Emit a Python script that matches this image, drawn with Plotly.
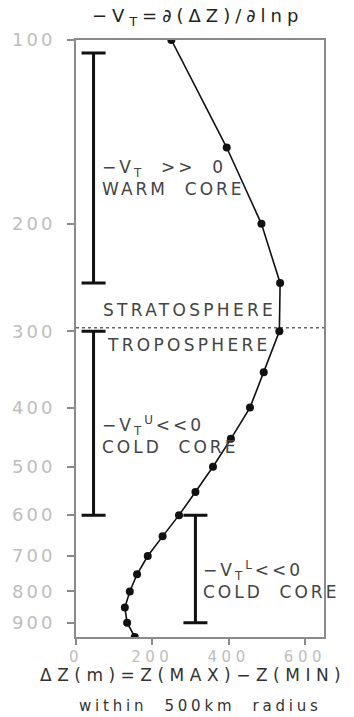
import math
import plotly.graph_objects as go

# ---- data ----
pressure = [100, 150, 200, 250, 300, 350, 400, 450, 500, 550, 600, 650, 700, 750, 800, 850, 900, 950]
delta_z = [250, 395, 486, 535, 533, 492, 456, 406, 359, 313, 270, 227, 188, 160, 141, 128, 134, 154]

# regime bars: x position, top pressure, bottom pressure
bar_x = [46, 46, 313]
bar_top = [105, 300, 600]
bar_bottom = [250, 600, 900]

tropopause_p = 296

y_ticks = [100, 200, 300, 400, 500, 600, 700, 800, 900]
x_ticks = [0, 200, 400, 600]
p_bottom = 950
x_max = 650

FONT = "DejaVu Sans"


def ls(text, px):
    return f'<span style="letter-spacing:{px}px">{text}</span>'


fig = go.Figure()

# regime bars as error bars
fig.add_trace(go.Scatter(
    x=bar_x, y=bar_top, mode="markers",
    marker=dict(size=0.1, color="rgba(0,0,0,0)"),
    error_y=dict(type="data", symmetric=False,
                 array=[b - t for t, b in zip(bar_top, bar_bottom)],
                 arrayminus=[0] * len(bar_top),
                 color="#111111", thickness=3, width=12),
    hoverinfo="skip", showlegend=False, cliponaxis=False,
))

# profile
fig.add_trace(go.Scatter(
    x=delta_z, y=pressure, mode="lines+markers",
    line=dict(color="#111111", width=1.6),
    marker=dict(color="#111111", size=8),
    showlegend=False, cliponaxis=True,
))

fig.add_shape(type="line", xref="paper", x0=0, x1=1, yref="y",
              y0=tropopause_p, y1=tropopause_p,
              line=dict(color="#666666", width=1.5, dash="dot"), layer="below")

txt = "#444444"
ann = []


def note(x, p, text, size=17, color=txt, sp=3):
    ann.append(dict(x=x, y=math.log10(p), xref="x", yref="y", text=ls(text, sp),
                    xanchor="left", yanchor="middle", align="left", showarrow=False,
                    font=dict(family=FONT, size=size, color=color)))


note(62, 168, "−V<sub>T</sub>\u00a0\u00a0>>\u00a0\u00a00<br>WARM\u00a0\u00a0CORE")
note(66, 277, "STRATOSPHERE", sp=3.3)
note(75, 316, "TROPOSPHERE", sp=3.3)
note(62, 443, "−V<sub>T</sub><sup>U</sup><<0<br>COLD\u00a0\u00a0CORE")
note(327, 766, "−V<sub>T</sub><sup>L</sup><<0<br>COLD\u00a0\u00a0CORE")

# title
ann.append(dict(x=0.49, y=1, xref="paper", yref="paper", yanchor="bottom", yshift=9,
                text=ls("−V<sub>T</sub>=∂(ΔZ)/∂lnp", 5), showarrow=False,
                font=dict(family=FONT, size=18, color="#222222")))
# x axis title lines
ann.append(dict(x=0.47, y=0, xref="paper", yref="paper", yanchor="middle", yshift=-38,
                text=ls("ΔZ(m)=Z(MAX)−Z(MIN)", 5.5), showarrow=False,
                font=dict(family=FONT, size=17, color="#333333")))
ann.append(dict(x=0.5, y=0, xref="paper", yref="paper", yanchor="middle", yshift=-69,
                text=ls("within\u00a0\u00a0500km\u00a0\u00a0radius", 3.8), showarrow=False,
                font=dict(family=FONT, size=15, color="#333333")))

axcol = "#8a8a8a"
fig.update_layout(
    width=354, height=717,
    margin=dict(l=72, r=30, t=40, b=80),
    paper_bgcolor="white", plot_bgcolor="white",
    annotations=ann,
    xaxis=dict(range=[0, x_max], tickvals=x_ticks, ticktext=[ls(str(v), 4.5) for v in x_ticks],
               showgrid=False, zeroline=False, showline=True, linecolor=axcol, linewidth=2,
               mirror=True, ticks="outside", ticklen=6, tickwidth=1.5, tickcolor=axcol,
               tickfont=dict(family=FONT, size=15, color="#bdbdbd"), ticklabelstandoff=-1),
    yaxis=dict(type="log", range=[math.log10(p_bottom), 2], tickvals=y_ticks,
               ticktext=[ls(str(v), 3) for v in y_ticks],
               showgrid=False, zeroline=False, showline=True, linecolor=axcol, linewidth=2,
               mirror=True, ticks="outside", ticklen=7, tickwidth=1.5, tickcolor=axcol,
               tickfont=dict(family=FONT, size=18, color="#bdbdbd"), ticklabelstandoff=8),
)

fig.write_html("out.html", config={"displayModeBar": False},
               post_script="document.body.style.margin='0';")
